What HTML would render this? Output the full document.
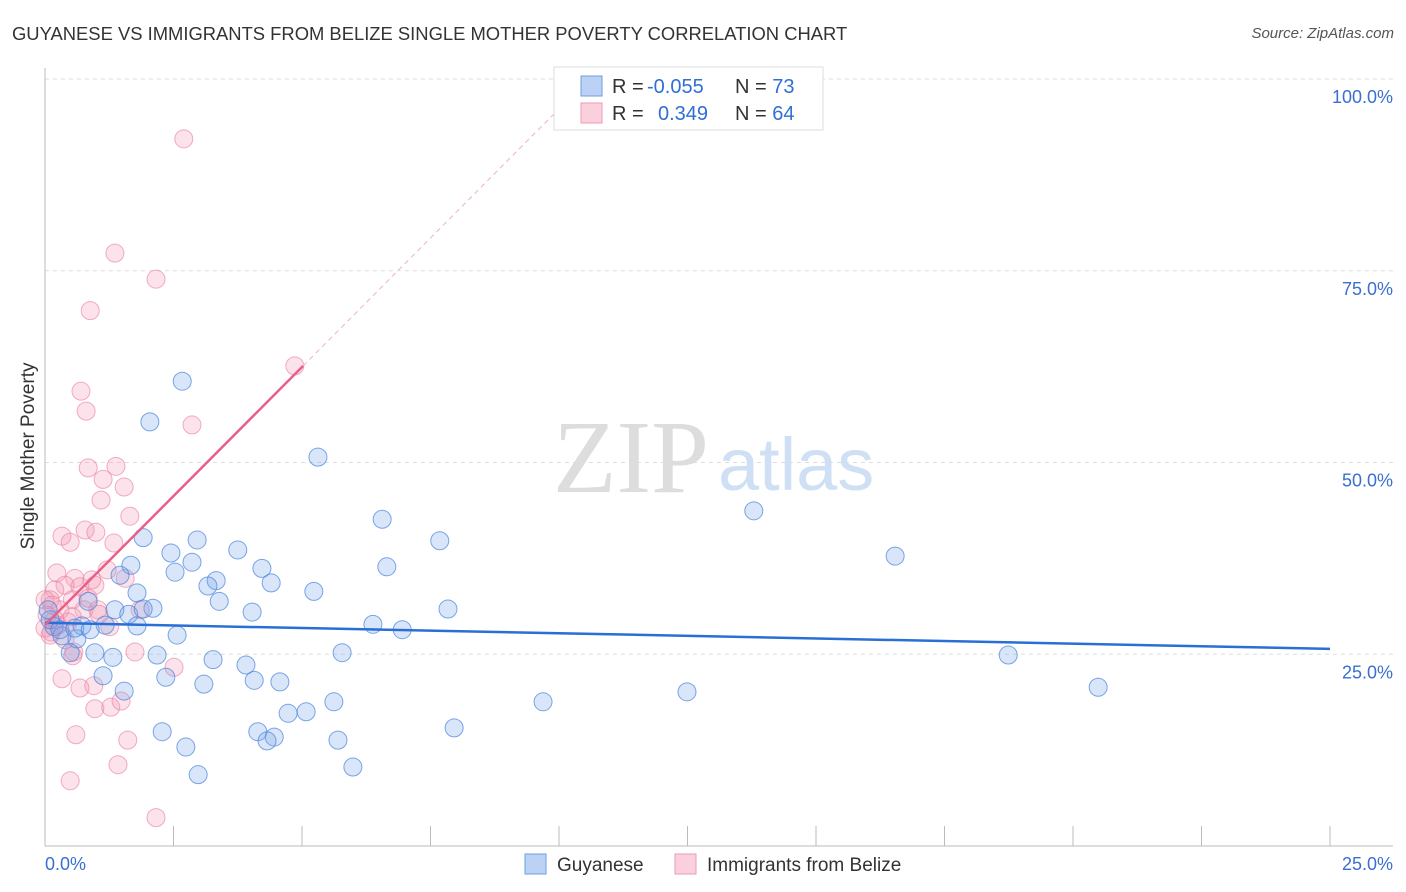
<!DOCTYPE html>
<html><head><meta charset="utf-8">
<style>
body{margin:0;background:#fff;font-family:"Liberation Sans",sans-serif;}
#wrap{position:relative;width:1406px;height:892px;overflow:hidden;}
.t{position:absolute;white-space:nowrap;}
</style></head>
<body>
<div id="wrap">
<div class="t" style="left:12px;top:23px;font-size:18.4px;color:#333;">GUYANESE VS IMMIGRANTS FROM BELIZE SINGLE MOTHER POVERTY CORRELATION CHART</div>
<div class="t" style="right:12px;top:25px;font-size:15px;color:#555;font-style:italic;">Source: ZipAtlas.com</div>
<svg id="plot" width="1406" height="892" style="position:absolute;left:0;top:0"></svg>
</div>
<script>
const xTickLabels=["0.0%","25.0%"];
const yTicks=[25,50,75,100];
const blueX=[2.67,2.04,5.31,13.79,6.56,7.68,16.54,1.91,2.96,2.45,3.75,2.86,1.67,4.22,6.65,1.46,2.53,3.33,4.40,3.17,5.23,1.79,3.39,0.84,2.10,1.36,1.63,1.91,4.03,7.84,6.38,6.95,1.17,0.72,1.79,2.57,0.18,0.33,0.62,0.49,0.97,1.32,2.18,3.27,5.78,3.91,18.74,1.13,2.35,4.07,4.57,3.09,1.54,12.49,20.49,5.62,9.69,4.73,5.08,2.28,4.14,4.46,4.32,7.96,2.74,5.70,2.98,5.99,0.10,0.06,0.29,0.58,0.88];
const blueY=[60.6,55.3,50.7,43.7,42.6,39.8,37.8,40.2,39.9,38.2,38.6,37.0,36.6,36.2,36.4,35.3,35.7,34.6,34.3,33.9,33.2,33.0,31.9,31.9,31.0,30.8,30.2,30.9,30.5,30.9,28.9,28.2,28.8,28.7,28.7,27.5,28.6,27.4,27.0,25.2,25.2,24.6,24.9,24.3,25.2,23.6,24.9,22.2,22.0,21.6,21.4,21.1,20.2,20.1,20.7,18.8,18.8,17.3,17.5,14.9,14.9,14.2,13.7,15.4,12.9,13.8,9.3,10.3,29.5,30.8,28.2,28.4,28.2];
const pinkX=[2.70,1.36,2.16,0.88,4.86,0.70,0.80,2.86,0.84,1.38,1.13,1.54,1.09,1.65,0.78,0.99,0.33,0.49,1.34,0.23,0.58,1.56,0.39,0.97,0.19,0.68,0.91,1.21,1.03,0.76,0.53,0.10,0.29,0.19,0.53,1.05,0.12,0.39,1.26,0,0.56,0.54,1.75,0.33,0.68,0.95,2.51,0.97,1.28,1.48,0.60,1.61,1.42,0.49,2.16,0.10,0.25,1.85,0.04,0.14,0.45,0.84,0];
const pinkY=[92.2,77.3,73.9,69.8,62.6,59.3,56.7,54.9,49.3,49.5,47.8,46.8,45.1,43.0,41.2,40.9,40.4,39.6,39.5,35.6,34.9,34.9,34.0,34.0,33.4,33.8,34.7,36.0,30.8,30.8,32.1,32.1,30.8,29.5,29.9,30.2,27.9,26.9,28.6,32.1,25.3,24.8,25.3,21.8,20.6,20.9,23.3,17.9,18.1,18.9,14.5,13.8,10.6,8.5,3.7,27.5,28.8,30.8,30.1,31.4,29.2,32.3,28.4];
const blueTrend=[29.1,25.7];
const pinkTrend=[28.8,6.73];

const X0=45,X1=1330,Y0=846,Y100=79;
const sx=v=>X0+v/25*(X1-X0);
const sy=v=>Y0-v/100*(Y0-Y100);
const svg=document.getElementById('plot');
const NS='http://www.w3.org/2000/svg';
function mk(tag,at,parent){const e=document.createElementNS(NS,tag);for(const k in at)e.setAttribute(k,at[k]);(parent||svg).appendChild(e);return e;}

yTicks.forEach(v=>{
  const g=mk('line',{x1:X0,x2:1393,y1:sy(v),y2:sy(v),stroke:'#ddd','stroke-dasharray':'4,4'});
  
  
  const t=mk('text',{x:1393,y:sy(v)+24,'text-anchor':'end','font-size':18,fill:'#3a6fd0','font-family':'Liberation Sans, sans-serif'});
  t.textContent=v.toFixed(1)+'%';
  
  
});
const ax=mk('line',{x1:X0,x2:X0,y1:68,y2:846,stroke:'#bbb'});


const bx=mk('line',{x1:X0,x2:1393,y1:846,y2:846,stroke:'#bbb'});


for(let i=1;i<=10;i++){
  const tk=mk('line',{x1:sx(i*2.5),x2:sx(i*2.5),y1:826,y2:846,stroke:'#bbb'});
  
  
}
[[0,'start',45],[25,'end',1393]].forEach((d,i)=>{
  const t=mk('text',{x:d[2],y:870,'text-anchor':d[1],'font-size':18,fill:'#3a6fd0','font-family':'Liberation Sans, sans-serif'});
  t.textContent=xTickLabels[i];
  
  
});
const yt=mk('text',{x:34,y:456,'text-anchor':'middle','font-size':19,fill:'#333',transform:'rotate(-90 34 456)','font-family':'Liberation Sans, sans-serif'});
yt.textContent='Single Mother Poverty';



const w1=mk('text',{x:553,y:492,'font-size':104,fill:'#ddd','font-family':'Liberation Serif, serif'});
w1.textContent='ZIP';


const w2=mk('text',{x:718,y:490,'font-size':74,fill:'#cfe0f5','font-family':'Liberation Sans, sans-serif'});
w2.textContent='atlas';



pinkX.forEach((x,i)=>{
  const c=mk('circle',{cx:sx(x),cy:sy(pinkY[i]),r:9,fill:'rgba(245,150,180,0.28)',stroke:'rgba(235,130,165,0.65)','stroke-width':1});
  
  
});
blueX.forEach((x,i)=>{
  const c=mk('circle',{cx:sx(x),cy:sy(blueY[i]),r:9,fill:'rgba(120,165,235,0.28)',stroke:'rgba(70,130,220,0.7)','stroke-width':1});
  
  
});
const bl=mk('line',{x1:sx(0),y1:sy(blueTrend[0]),x2:sx(25),y2:sy(blueTrend[1]),stroke:'#2a6fd6','stroke-width':2.5});


const xe=(62.6-pinkTrend[0])/pinkTrend[1], xt=(100-pinkTrend[0])/pinkTrend[1];
const pl=mk('line',{x1:sx(0),y1:sy(pinkTrend[0]),x2:sx(xe),y2:sy(pinkTrend[0]+pinkTrend[1]*xe),stroke:'#e8608a','stroke-width':2.5});


const pd=mk('line',{x1:sx(xe),y1:sy(pinkTrend[0]+pinkTrend[1]*xe),x2:sx(xt),y2:sy(100),stroke:'#f0b0c4','stroke-width':1,'stroke-dasharray':'5,4'});



// stats legend
const lg=mk('rect',{x:554,y:67,width:269,height:63,fill:'#fff',stroke:'#ddd'});


[[76,'rgba(120,165,235,0.5)','#6d9de0','-0.055','73'],[103,'rgba(245,150,180,0.45)','#ef9ab5',' 0.349','64']].forEach((r,i)=>{
  const s=mk('rect',{x:581,y:r[0],width:21,height:20,fill:r[1],stroke:r[2]});
  
  
  const t=mk('text',{x:612,y:r[0]+17,'font-size':20,fill:'#333','font-family':'Liberation Sans, sans-serif','xml:space':'preserve'});
  t.innerHTML='R = <tspan fill="#2f6fd6" x="'+(i?658:647)+'">'+r[3].trim()+'</tspan><tspan x="735">N = </tspan><tspan fill="#2f6fd6">'+r[4]+'</tspan>';
  
  
});
// bottom legend
[[525,'rgba(120,165,235,0.5)','#6d9de0','Guyanese'],[675,'rgba(245,150,180,0.45)','#ef9ab5','Immigrants from Belize']].forEach(r=>{
  const s=mk('rect',{x:r[0],y:854,width:21,height:20,fill:r[1],stroke:r[2]});
  
  
  const t=mk('text',{x:r[0]+32,y:871,'font-size':19,fill:'#333','font-family':'Liberation Sans, sans-serif'});
  t.textContent=r[3];
  
  
});
</script>
</body></html>
